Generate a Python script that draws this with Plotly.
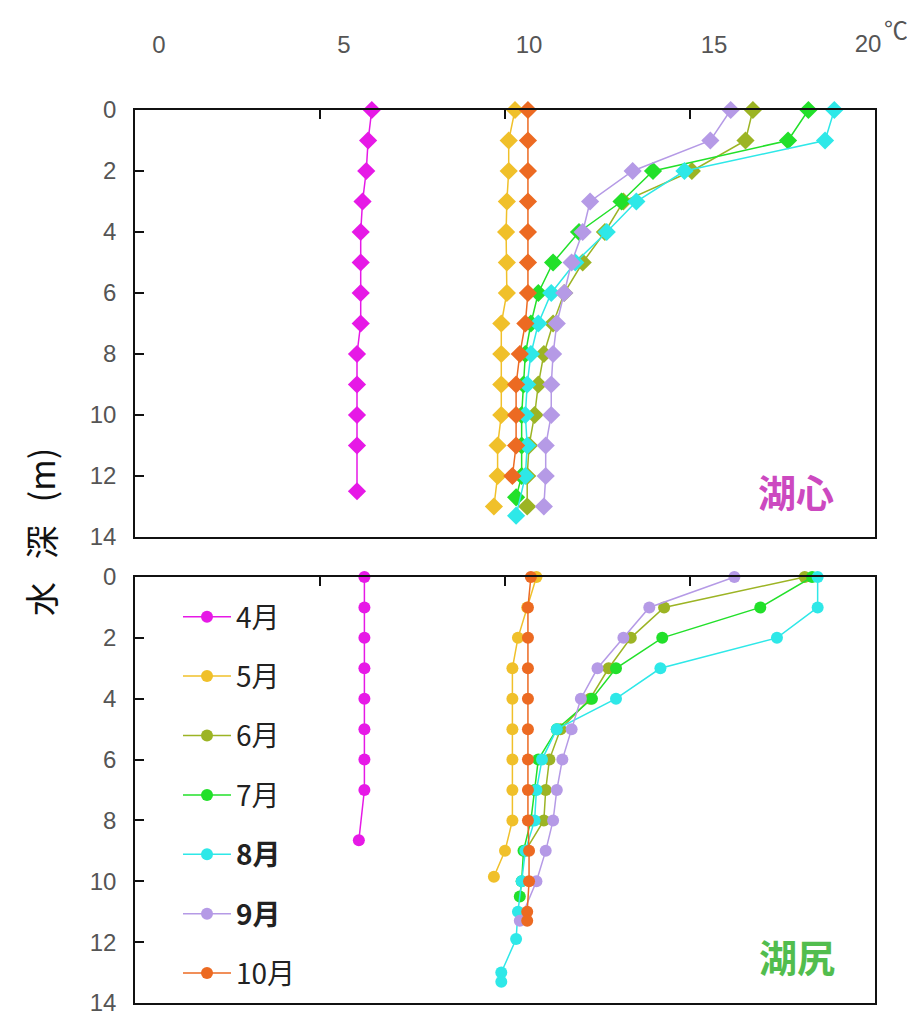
import plotly.graph_objects as go

# Water temperature profiles (°C) by depth (m), two stations, April–October
months = ["4月", "5月", "6月", "7月", "8月", "9月", "10月"]
legend_labels = ["4月", "5月", "6月", "7月", "<b>8月</b>", "<b>9月</b>", "10月"]
colors = ["#e619e6", "#f0c02a", "#9cb424", "#22e02a", "#2ee8e8", "#b59ae6", "#ec6a22"]

# --- 湖心 (lake centre) ---
center_depth_apr = [0, 1, 2, 3, 4, 5, 6, 7, 8, 9, 10, 11, 12.5]
center_temp_apr = [6.4, 6.3, 6.25, 6.15, 6.1, 6.1, 6.1, 6.1, 6.0, 6.0, 6.0, 6.0, 6.0]
center_depth_may = [0, 1, 2, 3, 4, 5, 6, 7, 8, 9, 10, 11, 12, 13]
center_temp_may = [10.27, 10.1, 10.1, 10.05, 10.03, 10.05, 10.05, 9.9, 9.9, 9.9, 9.9, 9.8, 9.8, 9.7]
center_depth_jun = [0, 1, 2, 3, 4, 5, 6, 7, 8, 9, 10, 11, 12, 13]
center_temp_jun = [16.7, 16.5, 15.05, 13.2, 12.7, 12.1, 11.6, 11.3, 11.05, 10.9, 10.8, 10.65, 10.6, 10.6]
center_depth_jul = [0, 1, 2, 3, 4, 5, 6, 7, 8, 9, 10, 11, 12, 12.7]
center_temp_jul = [18.2, 17.65, 14.0, 13.15, 12.0, 11.3, 10.9, 10.7, 10.55, 10.5, 10.45, 10.45, 10.45, 10.3]
center_depth_aug = [0, 1, 2, 3, 4, 5, 6, 7, 8, 9, 10, 11, 12, 13.3]
center_temp_aug = [18.9, 18.65, 14.85, 13.55, 12.75, 11.9, 11.25, 10.9, 10.7, 10.6, 10.55, 10.6, 10.55, 10.3]
center_depth_sep = [0, 1, 2, 3, 4, 5, 6, 7, 8, 9, 10, 11, 12, 13]
center_temp_sep = [16.1, 15.55, 13.45, 12.3, 12.1, 11.8, 11.6, 11.4, 11.3, 11.25, 11.25, 11.1, 11.1, 11.05]
center_depth_oct = [0, 1, 2, 3, 4, 5, 6, 7, 8, 9, 10, 11, 12]
center_temp_oct = [10.62, 10.62, 10.62, 10.62, 10.62, 10.62, 10.62, 10.55, 10.4, 10.3, 10.3, 10.3, 10.2]

# --- 湖尻 (lake outlet end) ---
outlet_depth_apr = [0, 1, 2, 3, 4, 5, 6, 7, 8.65]
outlet_temp_apr = [6.2, 6.2, 6.2, 6.2, 6.2, 6.2, 6.2, 6.2, 6.05]
outlet_depth_may = [0, 1, 2, 3, 4, 5, 6, 7, 8, 9, 9.85]
outlet_temp_may = [10.85, 10.6, 10.35, 10.2, 10.2, 10.2, 10.2, 10.2, 10.2, 10.0, 9.7]
outlet_depth_jun = [0, 1, 2, 3, 4, 5, 6, 7, 8, 9]
outlet_temp_jun = [18.1, 14.3, 13.4, 12.8, 12.3, 11.5, 11.2, 11.1, 11.05, 10.55]
outlet_depth_jul = [0, 1, 2, 3, 4, 5, 6, 7, 8, 9, 10, 10.5]
outlet_temp_jul = [18.3, 16.9, 14.25, 13.0, 12.35, 11.4, 10.9, 10.8, 10.7, 10.5, 10.45, 10.4]
outlet_depth_aug = [0, 1, 2, 3, 4, 5, 6, 7, 8, 9, 10, 11, 11.9, 13, 13.3]
outlet_temp_aug = [18.45, 18.45, 17.35, 14.2, 13.0, 11.4, 11.0, 10.85, 10.8, 10.55, 10.45, 10.35, 10.3, 9.9, 9.9]
outlet_depth_sep = [0, 1, 2, 3, 4, 5, 6, 7, 8, 9, 10, 11.3]
outlet_temp_sep = [16.2, 13.9, 13.2, 12.5, 12.05, 11.8, 11.55, 11.4, 11.3, 11.1, 10.85, 10.4]
outlet_depth_oct = [0, 1, 2, 3, 4, 5, 6, 7, 8, 9, 10, 11, 11.3]
outlet_temp_oct = [10.7, 10.62, 10.62, 10.62, 10.62, 10.62, 10.62, 10.62, 10.62, 10.65, 10.65, 10.6, 10.6]

x_ticks = [0, 5, 10, 15, 20]
y_ticks = [0, 2, 4, 6, 8, 10, 12, 14]

center = [
    (center_temp_apr, center_depth_apr), (center_temp_may, center_depth_may),
    (center_temp_jun, center_depth_jun), (center_temp_jul, center_depth_jul),
    (center_temp_aug, center_depth_aug), (center_temp_sep, center_depth_sep),
    (center_temp_oct, center_depth_oct),
]
outlet = [
    (outlet_temp_apr, outlet_depth_apr), (outlet_temp_may, outlet_depth_may),
    (outlet_temp_jun, outlet_depth_jun), (outlet_temp_jul, outlet_depth_jul),
    (outlet_temp_aug, outlet_depth_aug), (outlet_temp_sep, outlet_depth_sep),
    (outlet_temp_oct, outlet_depth_oct),
]

W, H = 907, 1019
fig = go.Figure()

for i, (t, d) in enumerate(center):
    fig.add_trace(go.Scatter(
        x=t, y=d, mode="lines+markers", name=legend_labels[i],
        legendgroup=months[i], showlegend=False,
        line=dict(color=colors[i], width=1.5),
        marker=dict(symbol="diamond", size=14, color=colors[i]),
        xaxis="x", yaxis="y", cliponaxis=False,
    ))

for i, (t, d) in enumerate(outlet):
    fig.add_trace(go.Scatter(
        x=t, y=d, mode="lines+markers", name=legend_labels[i],
        legendgroup=months[i], showlegend=True,
        line=dict(color=colors[i], width=1.5),
        marker=dict(symbol="circle", size=12, color=colors[i]),
        xaxis="x2", yaxis="y2", cliponaxis=False,
    ))

x0, x1 = 135 / W, 875 / W
top_dom = [1 - 537 / H, 1 - 110 / H]
bot_dom = [1 - 1003 / H, 1 - 577 / H]

axis_font = dict(family="Liberation Sans, Arial, sans-serif", size=24, color="#555")
frame = dict(showline=True, linecolor="#111", linewidth=1.5, mirror=True,
             showgrid=False, zeroline=False, ticks="inside", ticklen=9,
             tickcolor="#111", tickwidth=1.5)

fig.update_layout(
    width=W, height=H,
    margin=dict(l=0, r=0, t=0, b=0, autoexpand=False),
    paper_bgcolor="white", plot_bgcolor="white",
    # temperature scale along the top of the upper panel
    xaxis=dict(domain=[x0, x1], range=[0, 20], side="top", anchor="y",
               tickvals=x_ticks[:-1], ticktext=[str(v) for v in x_ticks[:-1]],
               tickfont=axis_font, ticklabelshift=24, ticklabelstandoff=46,
               ticklabeloverflow="allow", **frame),
    # the end label sits just inside the right edge, under the unit
    xaxis3=dict(overlaying="x", range=[0, 20], side="top", anchor="y",
                tickvals=x_ticks[-1:], ticktext=[str(v) for v in x_ticks[-1:]],
                tickfont=axis_font, ticklabelshift=-7, ticklabelstandoff=52,
                ticklabeloverflow="allow", showline=False, ticks="",
                showgrid=False, zeroline=False),
    yaxis=dict(domain=top_dom, range=[14, 0], anchor="x",
               tickvals=y_ticks, tickfont=axis_font, ticklabelstandoff=12,
               ticklabeloverflow="allow", **frame),
    xaxis2=dict(domain=[x0, x1], range=[0, 20], side="top", anchor="y2",
                tickvals=x_ticks, showticklabels=False, **frame),
    yaxis2=dict(domain=bot_dom, range=[14, 0], anchor="x2",
                tickvals=y_ticks, tickfont=axis_font, ticklabelstandoff=12,
                ticklabeloverflow="allow", **frame),
    legend=dict(x=178 / W, y=1 - 592 / H, xanchor="left", yanchor="top",
                bgcolor="rgba(0,0,0,0)", tracegroupgap=20, itemwidth=48,
                font=dict(family="Noto Sans CJK JP", size=28, color="#222")),
    showlegend=True,
)

# invisible anchor so the overlaying scale is laid out
fig.add_trace(go.Scatter(x=[20], y=[0], xaxis="x3", yaxis="y", mode="markers",
                         marker=dict(opacity=0), showlegend=False, hoverinfo="skip"))

fig.add_annotation(text="水\u00a0\u00a0\u00a0深\u00a0\u00a0\u00a0(m)", xref="paper", yref="paper",
                   x=40 / W, y=1 - 532 / H, showarrow=False, textangle=-90,
                   xanchor="center", yanchor="middle",
                   font=dict(family="Noto Sans CJK JP", size=34, color="#111"))
fig.add_annotation(text="℃", xref="paper", yref="paper",
                   x=896 / W, y=1 - 28 / H, showarrow=False,
                   xanchor="center", yanchor="middle",
                   font=dict(family="Noto Sans CJK JP", size=24, color="#555"))
fig.add_annotation(text="<b>湖心</b>", xref="paper", yref="paper",
                   x=796 / W, y=1 - 490 / H, showarrow=False,
                   xanchor="center", yanchor="middle",
                   font=dict(family="Noto Sans CJK JP", size=38, color="#cc49c0"))
fig.add_annotation(text="<b>湖尻</b>", xref="paper", yref="paper",
                   x=797 / W, y=1 - 955 / H, showarrow=False,
                   xanchor="center", yanchor="middle",
                   font=dict(family="Noto Sans CJK JP", size=38, color="#52bd4e"))

fig.write_html("out.html")
